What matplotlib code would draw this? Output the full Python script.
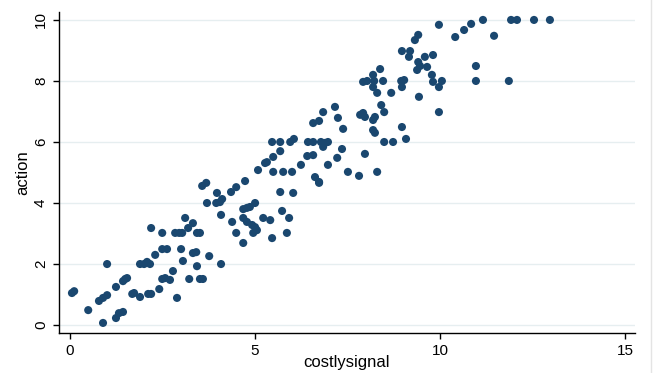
import matplotlib
matplotlib.use("Agg")
import matplotlib.pyplot as plt
from matplotlib.lines import Line2D

plt.rcParams['font.family'] = ['Liberation Sans', 'DejaVu Sans']

# costlysignal (x) and action (y) for each observation
costlysignal = [
    0.05, 0.11, 0.49, 0.78, 0.89, 1.00, 1.00, 0.89, 1.24, 1.24,
    1.32, 1.43, 1.43, 1.49, 1.54, 1.68, 1.73, 1.89, 1.89, 2.00,
    2.08, 2.16, 2.11, 2.19, 2.19, 2.30, 2.41, 2.49, 2.49, 2.62,
    2.49, 2.57, 2.70, 2.78, 2.89, 2.84, 2.95, 3.03, 3.00, 3.05,
    3.11, 3.19, 3.22, 3.32, 3.32, 3.41, 3.43, 3.43, 3.51, 3.51,
    3.59, 3.57, 3.68, 3.70, 3.76, 3.97, 3.95, 4.05, 4.11, 4.08,
    4.08, 4.35, 4.49, 4.73, 4.38, 4.49, 4.68, 4.78, 4.86, 5.00,
    4.68, 4.78, 4.92, 5.00, 4.95, 5.05, 4.68, 5.22, 5.41, 5.46,
    5.73, 5.92, 5.86, 5.68, 6.03, 6.73, 5.08, 5.27, 5.32, 5.49,
    5.68, 5.46, 5.68, 5.95, 6.05, 5.49, 5.76, 6.00, 6.24, 6.41,
    6.57, 6.43, 6.57, 6.78, 6.89, 6.97, 6.84, 6.57, 6.73, 6.84,
    7.16, 7.24, 7.38, 7.35, 7.22, 6.97, 6.62, 6.73, 7.51, 7.81,
    8.30, 7.97, 7.84, 7.92, 7.97, 8.19, 8.24, 8.19, 8.24, 8.41,
    8.49, 8.49, 8.73, 8.97, 9.08, 7.92, 8.03, 8.19, 8.38, 8.22,
    8.46, 8.19, 8.30, 8.68, 8.95, 9.03, 8.97, 8.97, 9.19, 9.16,
    9.32, 9.41, 9.43, 9.41, 9.59, 9.81, 9.46, 9.65, 9.38, 9.78,
    9.81, 10.05, 9.97, 9.97, 9.97, 10.41, 10.65, 10.84, 11.16, 11.46,
    11.92, 12.08, 12.54, 12.97, 10.97, 10.97, 11.86,
]
action = [
    1.05, 1.11, 0.49, 0.79, 0.89, 0.98, 2.00, 0.07, 1.25, 0.23,
    0.39, 0.43, 1.44, 1.51, 1.54, 1.02, 1.05, 0.92, 2.00, 2.00,
    2.07, 2.00, 1.02, 1.02, 3.18, 2.30, 1.18, 3.02, 2.49, 2.49,
    1.51, 1.54, 1.48, 1.77, 0.89, 3.02, 3.02, 3.02, 2.49, 2.10,
    3.51, 3.18, 1.51, 3.34, 2.36, 2.39, 1.93, 3.02, 3.02, 1.51,
    1.51, 4.56, 4.66, 4.00, 2.26, 4.33, 4.00, 4.03, 4.13, 3.61,
    2.00, 4.36, 4.52, 4.72, 3.38, 3.02, 3.80, 3.84, 3.87, 4.00,
    3.51, 3.38, 3.28, 3.21, 3.02, 3.11, 2.69, 3.51, 3.44, 2.85,
    3.74, 3.51, 3.02, 4.36, 4.33, 4.69, 5.08, 5.31, 5.34, 5.51,
    5.70, 6.00, 6.00, 6.00, 6.10, 5.02, 5.02, 5.02, 5.25, 5.54,
    5.57, 6.00, 6.00, 6.00, 5.97, 6.00, 5.84, 6.62, 6.69, 6.98,
    7.15, 6.79, 6.43, 5.77, 5.48, 5.25, 4.85, 4.66, 5.02, 4.89,
    5.02, 5.61, 6.89, 6.95, 6.82, 6.72, 6.82, 6.39, 6.30, 7.21,
    6.98, 6.00, 6.00, 6.49, 6.10, 7.97, 8.00, 8.20, 8.39, 8.00,
    8.00, 7.80, 7.61, 7.61, 8.00, 8.03, 7.80, 8.98, 8.98, 8.79,
    9.34, 9.51, 7.48, 8.62, 8.79, 8.85, 8.49, 8.46, 8.36, 8.20,
    7.97, 8.00, 7.80, 6.98, 9.84, 9.44, 9.67, 9.87, 10.00, 9.48,
    10.00, 10.00, 10.00, 10.00, 8.49, 8.00, 8.00,
]

x_ticks = [0, 5, 10, 15]
y_ticks = [0, 2, 4, 6, 8, 10]

fig = plt.figure(figsize=(6.54, 3.73), dpi=100)
ax = fig.add_axes([59 / 654, 40 / 373, 576 / 654, 321 / 373])

ax.scatter(costlysignal, action, s=34, color='#1a476f', edgecolors='none', zorder=3)

ax.set_xlim(-0.3, 15.27)
ax.set_ylim(-0.26, 10.26)
ax.set_xticks(x_ticks)
ax.set_yticks(y_ticks)
ax.set_yticklabels([str(t) for t in y_ticks], rotation=90, va='center')

ax.grid(True, axis='y', color='#e6eef0', linewidth=1.0, zorder=0)
ax.set_axisbelow(True)

for side in ['top', 'right']:
    ax.spines[side].set_visible(False)
for side in ['left', 'bottom']:
    ax.spines[side].set_color('black')
    ax.spines[side].set_linewidth(1.0)

ax.tick_params(axis='both', direction='out', length=4.5, width=1.0,
               colors='black', labelsize=11, pad=3.5)

ax.set_xlabel('costlysignal', fontsize=12)
ax.xaxis.set_label_coords(0.5, -0.068)
ax.xaxis.label.set_va('top')
ax.set_ylabel('action', fontsize=12)
ax.yaxis.set_label_coords(-0.0625, 0.5)
ax.yaxis.label.set_va('center')

# thin frame line at the right of the graph region
fig.add_artist(Line2D([651 / 654, 651 / 654], [0, 1], color='#e4e4e4', linewidth=1.0))

fig.savefig('out.png', dpi=100)
